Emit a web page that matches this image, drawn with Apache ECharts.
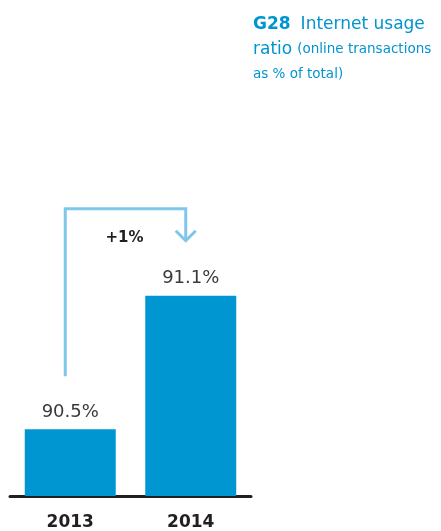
<!DOCTYPE html>
<html><head><meta charset="utf-8">
<script src="https://cdn.jsdelivr.net/npm/echarts@6/dist/echarts.min.js"></script>
<style>html,body{margin:0;padding:0;background:#fff;overflow:hidden}#c{width:441px;height:531px}</style>
</head><body><div id="c"></div>
<script>
var categories = ['2013', '2014'];
var values = [90.5, 91.1];
var changeLabel = '+1%';

var chart = echarts.init(document.getElementById('c'), null, {renderer: 'canvas'});
var FONT = '"DejaVu Sans", "Liberation Sans", sans-serif';
var option = {
  animation: false,
  title: {
    left: 248, top: 7,
    text: '{b|G28}  {r|Internet usage}\n{r|ratio} {s|(online transactions}\n{s|as % of total)}',
    textStyle: {
      rich: {
        b: {fontFamily: FONT, fontWeight: 'bold', fontSize: 17, color: '#0095d0', lineHeight: 25},
        r: {fontFamily: FONT, fontWeight: 'normal', fontSize: 17, color: '#0095d0', lineHeight: 25},
        s: {fontFamily: FONT, fontWeight: 'normal', fontSize: 13.5, color: '#0095d0', lineHeight: 25}
      }
    }
  },
  grid: {left: 10, right: 190, top: 51, bottom: 33},
  xAxis: {
    type: 'category', data: categories,
    axisLine: {lineStyle: {color: '#231f20', width: 3}},
    axisTick: {show: false},
    axisLabel: {fontFamily: FONT, fontWeight: 'bold', fontSize: 17, color: '#231f20', margin: 18}
  },
  yAxis: {
    type: 'value', min: 90.2, max: 92.2,
    show: false, splitLine: {show: false}
  },
  series: [{
    type: 'bar', data: values, barWidth: '75.5%',
    itemStyle: {color: '#0096d2'},
    label: {show: true, position: 'top', distance: 8, fontFamily: FONT, fontSize: 18, color: '#3a3a3a',
      formatter: function (p) { return p.value.toFixed(1) + '%'; }}
  }]
};
chart.setOption(option);

var p0 = chart.convertToPixel({seriesIndex: 0}, [0, values[0]]);
var p1 = chart.convertToPixel({seriesIndex: 0}, [1, values[1]]);
var x0 = p0[0] - 5, x1 = p1[0] - 5;
var yTop = p1[1] - 87;
var yLeftEnd = p0[1] - 53;
var yArrow = p1[1] - 55;
var col = '#7fc6eb';
chart.setOption({
  graphic: [
    {type: 'polyline', shape: {points: [[x0, yLeftEnd], [x0, yTop], [x1, yTop], [x1, yArrow]]},
      style: {stroke: col, lineWidth: 3, fill: null}},
    {type: 'polyline', shape: {points: [[x1 - 10, yArrow - 10], [x1, yArrow], [x1 + 10, yArrow - 10]]},
      style: {stroke: col, lineWidth: 3, fill: null}},
    {type: 'text', x: (x0 + x1) / 2 - 1, y: yArrow - 3,
      style: {text: changeLabel, fontFamily: FONT, fontWeight: 'bold', fontSize: 15, fill: '#231f20',
        align: 'center', verticalAlign: 'middle'}}
  ]
});
</script></body></html>
